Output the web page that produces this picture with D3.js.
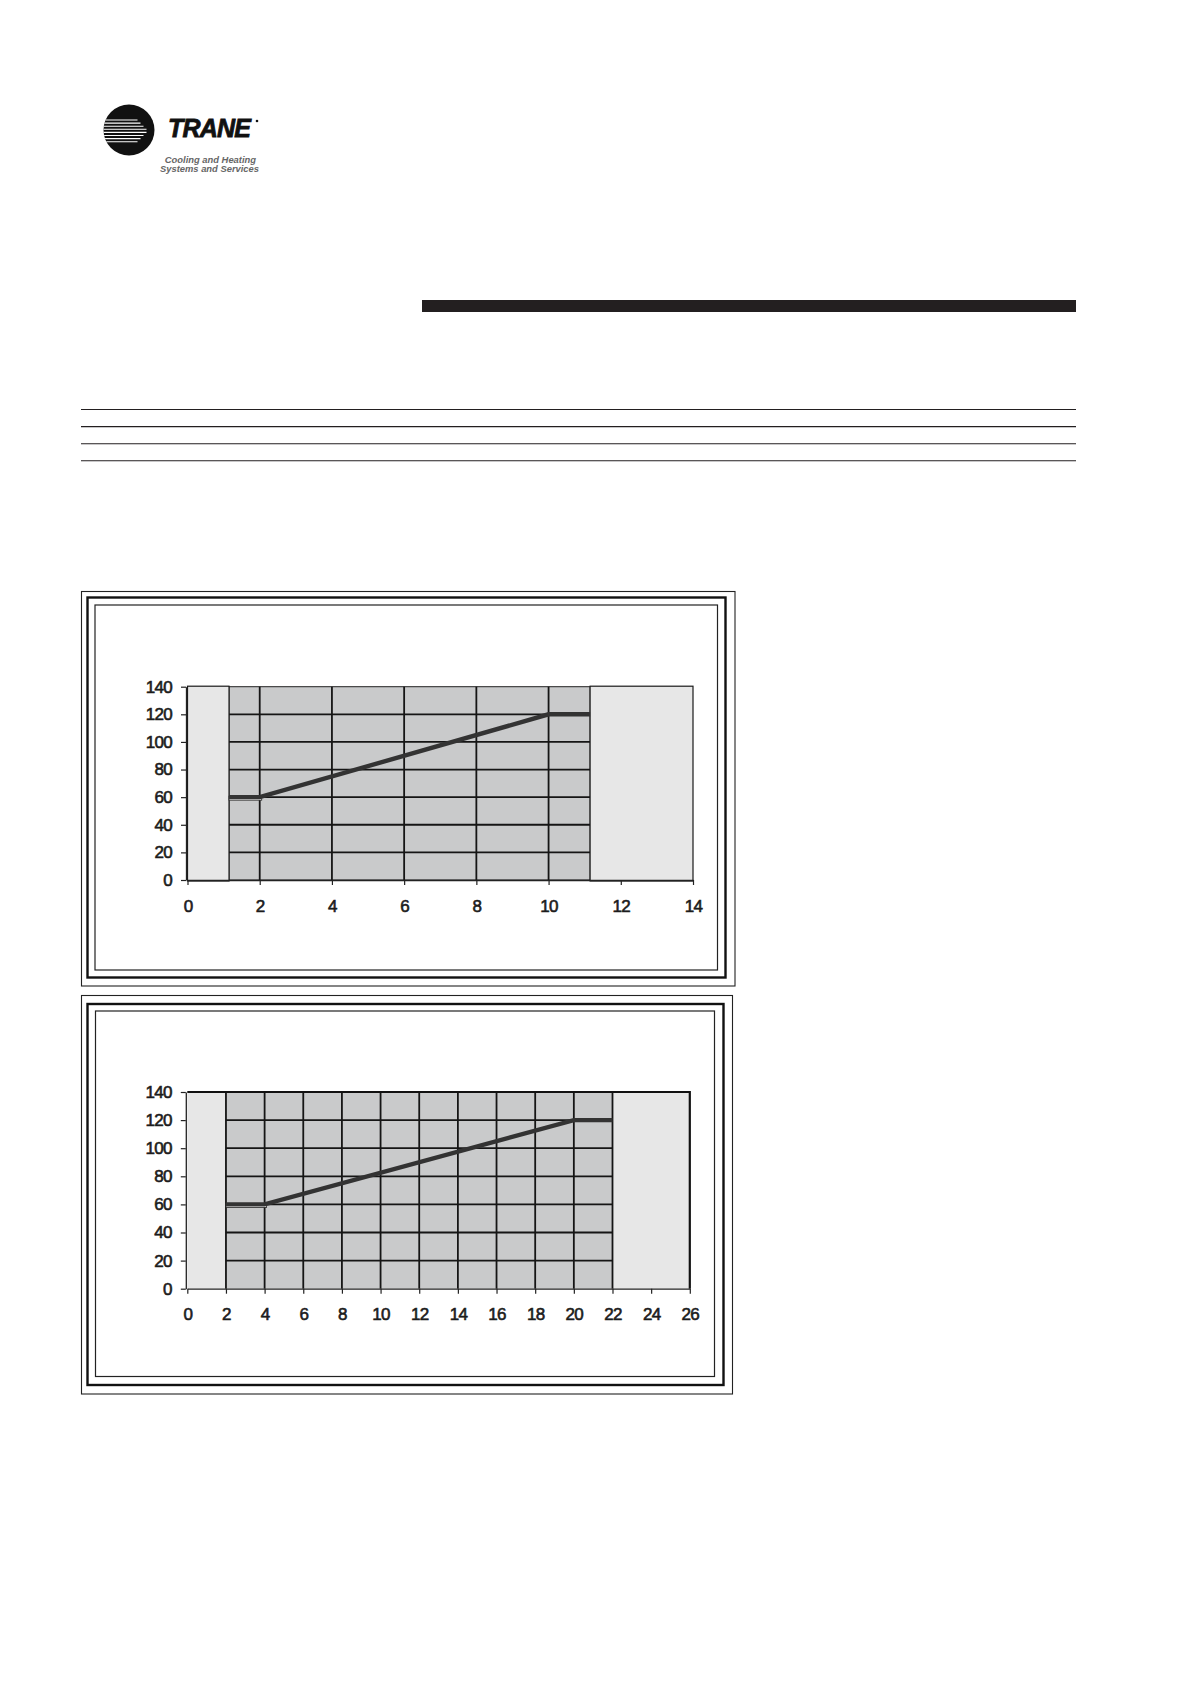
<!DOCTYPE html>
<html>
<head>
<meta charset="utf-8">
<script src="https://cdn.jsdelivr.net/npm/d3@7/dist/d3.min.js"></script>
<style>
  html, body { margin: 0; padding: 0; background: #fff; }
  svg { display: block; }
  .tick text { font-family: "Liberation Sans", Arial, sans-serif; }
</style>
</head>
<body>
<svg id="page" width="1190" height="1684"></svg>
<script>
// ---------- data ----------
const yTicks = [0, 20, 40, 60, 80, 100, 120, 140];

const chart1XTicks = [0, 2, 4, 6, 8, 10, 12, 14];
const chart1LineX = [1.15, 2, 10, 11.15];
const chart1LineY = [60, 60, 120, 120];
const chart1Range = [1.15, 11.15];          // operating (dark) band
const chart1Outside = [[0, 1.15], [11.15, 14]]; // light bands

const chart2XTicks = [0, 2, 4, 6, 8, 10, 12, 14, 16, 18, 20, 22, 24, 26];
const chart2LineX = [2, 4, 20, 22];
const chart2LineY = [60, 60, 120, 120];
const chart2Range = [2, 22];
const chart2Outside = [[0, 2], [22, 26]];

const headerRules = [0, 1, 2, 3];
const logoStripes = [0, 1, 2, 3, 4, 5, 6, 7];

// ---------- page ----------
const svg = d3.select("#page");
const ink = "#231f20";

// Logo
const logo = svg.append("g");
logo.append("clipPath").attr("id", "logoClip")
  .append("circle").attr("cx", 129).attr("cy", 130).attr("r", 25.5);
logo.append("circle").attr("cx", 129).attr("cy", 130).attr("r", 25.5).attr("fill", "#111");
logo.append("g").attr("clip-path", "url(#logoClip)")
  .selectAll("line").data(logoStripes).join("line")
  .attr("x1", 100)
  .attr("x2", (d, i) => 148 - Math.abs(i - 3.5) * 3)
  .attr("y1", (d, i) => 120 + i * 3.1)
  .attr("y2", (d, i) => 120 + i * 3.1)
  .attr("stroke", "#fff").attr("stroke-width", 1.1);
logo.append("text").attr("x", 168).attr("y", 137)
  .attr("font-family", "Liberation Sans, Arial, sans-serif")
  .attr("font-weight", "bold").attr("font-style", "italic")
  .attr("font-size", 25).attr("letter-spacing", -0.8).attr("fill", "#111")
  .attr("stroke", "#111").attr("stroke-width", 0.8)
  .text("TRANE");
logo.append("circle").attr("cx", 257).attr("cy", 121).attr("r", 1.3).attr("fill", "#111");
logo.append("text").attr("x", 256).attr("y", 163).attr("text-anchor", "end")
  .attr("font-family", "Liberation Sans, Arial, sans-serif")
  .attr("font-weight", "bold").attr("font-style", "italic")
  .attr("font-size", 9.4).attr("fill", "#666").text("Cooling and Heating");
logo.append("text").attr("x", 259).attr("y", 171.5).attr("text-anchor", "end")
  .attr("font-family", "Liberation Sans, Arial, sans-serif")
  .attr("font-weight", "bold").attr("font-style", "italic")
  .attr("font-size", 9.4).attr("fill", "#666").text("Systems and Services");

// Black header bar
svg.append("rect").attr("x", 422).attr("y", 300).attr("width", 654).attr("height", 12).attr("fill", ink);

// Header rules
svg.append("g").selectAll("line").data(headerRules).join("line")
  .attr("x1", 81).attr("x2", 1076)
  .attr("y1", d => 409.5 + d * 17.1).attr("y2", d => 409.5 + d * 17.1)
  .attr("stroke", ink).attr("stroke-width", 1.1);

// ---------- charts ----------
function drawChart(cfg) {
  const g = svg.append("g");
  const f = cfg.frame;
  // frames
  g.append("rect").attr("x", f.outer[0]).attr("y", f.outer[1])
    .attr("width", f.outer[2] - f.outer[0]).attr("height", f.outer[3] - f.outer[1])
    .attr("fill", "none").attr("stroke", "#222").attr("stroke-width", 1.1);
  g.append("rect").attr("x", f.dbl[0]).attr("y", f.dbl[1])
    .attr("width", f.dbl[2] - f.dbl[0]).attr("height", f.dbl[3] - f.dbl[1])
    .attr("fill", "none").attr("stroke", "#111").attr("stroke-width", 2.4);
  g.append("rect").attr("x", f.inner[0]).attr("y", f.inner[1])
    .attr("width", f.inner[2] - f.inner[0]).attr("height", f.inner[3] - f.inner[1])
    .attr("fill", "none").attr("stroke", "#222").attr("stroke-width", 1.2);

  const p = cfg.plot;
  const x = d3.scaleLinear().domain(d3.extent(cfg.xTicks)).range([p.left, p.right]);
  const y = d3.scaleLinear().domain(d3.extent(yTicks)).range([p.bottom, p.top]);
  const yMax = d3.max(yTicks), yMin = d3.min(yTicks);

  if (!cfg.bandsOnTop) {
    g.append("g").selectAll("rect").data(cfg.outside).join("rect")
      .attr("x", d => x(d[0])).attr("width", d => x(d[1]) - x(d[0]))
      .attr("y", y(yMax)).attr("height", y(yMin) - y(yMax))
      .attr("fill", "#e7e7e7");
  }
  // dark operating band
  g.append("rect")
    .attr("x", x(cfg.range[0])).attr("width", x(cfg.range[1]) - x(cfg.range[0]))
    .attr("y", y(yMax)).attr("height", y(yMin) - y(yMax))
    .attr("fill", "#c9cacb")
    .attr("stroke", cfg.bandsOnTop ? "#222" : "none").attr("stroke-width", 1);

  // gridlines
  const vTicks = cfg.xTicks.filter(t => t >= cfg.range[0] && t <= cfg.range[1]);
  g.append("g").selectAll("line").data(vTicks).join("line")
    .attr("x1", d => x(d)).attr("x2", d => x(d))
    .attr("y1", y(yMin)).attr("y2", y(yMax))
    .attr("stroke", "#151515").attr("stroke-width", 1.8);
  const hTicks = yTicks.filter(t => t > yMin && t < yMax);
  g.append("g").selectAll("line").data(hTicks).join("line")
    .attr("x1", x(cfg.range[0])).attr("x2", x(cfg.range[1]))
    .attr("y1", d => y(d)).attr("y2", d => y(d))
    .attr("stroke", "#151515").attr("stroke-width", 1.8);

  if (cfg.bandsOnTop) {
    g.append("g").selectAll("rect").data(cfg.outside).join("rect")
      .attr("x", d => x(d[0])).attr("width", d => x(d[1]) - x(d[0]))
      .attr("y", y(yMax) - 0.5).attr("height", y(yMin) - y(yMax) + 1.5)
      .attr("fill", "#e7e7e7").attr("stroke", "#1a1a1a").attr("stroke-width", 1.2);
  } else {
    g.append("path")
      .attr("d", `M${x.range()[0]},${y(yMax)}H${x.range()[1]}V${y(yMin)}`)
      .attr("fill", "none").attr("stroke", "#111").attr("stroke-width", 2.2);
  }

  // axes
  const yAxis = d3.axisLeft(y).tickValues(yTicks).tickSize(5).tickSizeOuter(0).tickPadding(4);
  const ya = g.append("g").attr("transform", `translate(${p.left - 1.5},0)`).call(yAxis);
  const xAxis = d3.axisBottom(x).tickValues(cfg.xTicks).tickSize(5).tickSizeOuter(0).tickPadding(cfg.xPad);
  const xa = g.append("g").attr("transform", `translate(0,${p.bottom})`).call(xAxis);
  [ya, xa].forEach(a => {
    a.select(".domain").attr("stroke", "#222").attr("stroke-width", 1.3);
    a.selectAll(".tick line").attr("stroke", "#222").attr("stroke-width", 1.2);
    a.selectAll(".tick text")
      .attr("font-size", 17).attr("letter-spacing", -0.7)
      .attr("fill", "#1c1c1c").attr("stroke", "#1c1c1c").attr("stroke-width", 0.6);
  });
  ya.selectAll(".tick text").attr("x", -14);

  // small outlined marker under the first flat segment
  g.append("rect")
    .attr("x", x(cfg.lineX[0])).attr("width", x(cfg.lineX[1]) - x(cfg.lineX[0]) + 2)
    .attr("y", y(cfg.lineY[0]) - 1).attr("height", 4)
    .attr("fill", "#fff").attr("stroke", "#222").attr("stroke-width", 0.8);

  // data line
  const pts = cfg.lineX.map((v, i) => [v, cfg.lineY[i]]);
  g.append("path").datum(pts)
    .attr("d", d3.line().x(d => x(d[0])).y(d => y(d[1])))
    .attr("fill", "none").attr("stroke", "#333").attr("stroke-width", 4.4)
    .attr("stroke-linejoin", "miter");
}

drawChart({
  frame: { outer: [81.5, 591.5, 735, 986], dbl: [87.5, 597.5, 725.5, 977.5], inner: [95, 605, 717.5, 970] },
  plot: { left: 187.5, right: 693, top: 686.7, bottom: 880 },
  xTicks: chart1XTicks, lineX: chart1LineX, lineY: chart1LineY,
  range: chart1Range, outside: chart1Outside, bandsOnTop: true, xPad: 15
});

drawChart({
  frame: { outer: [81.5, 995.5, 732.5, 1394], dbl: [87.5, 1004, 723.5, 1385], inner: [95.5, 1011, 714.5, 1376.5] },
  plot: { left: 187.3, right: 689.8, top: 1092, bottom: 1288.7 },
  xTicks: chart2XTicks, lineX: chart2LineX, lineY: chart2LineY,
  range: chart2Range, outside: chart2Outside, bandsOnTop: false, xPad: 14
});
</script>
</body>
</html>
